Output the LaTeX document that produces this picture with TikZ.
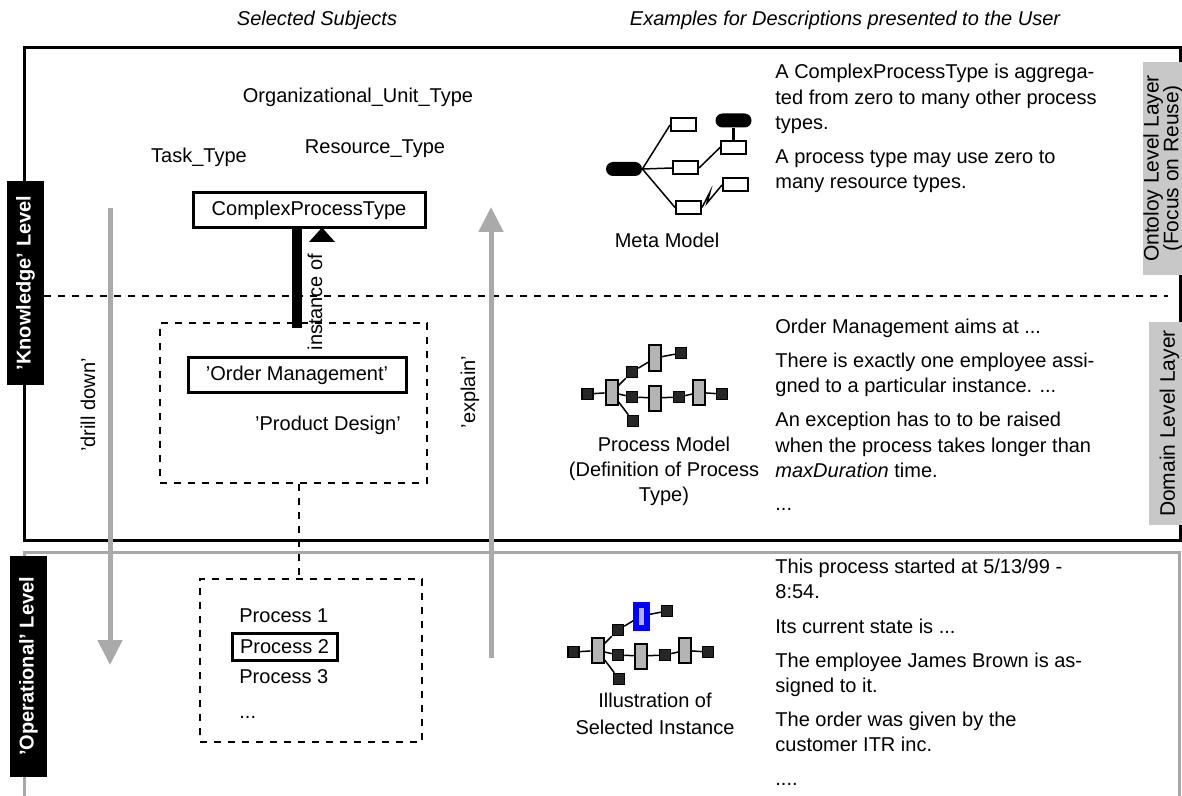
\documentclass[tikz,border=0pt]{standalone}
\usepackage{fontspec}
\setmainfont{Liberation Sans}
\usetikzlibrary{arrows.meta,calc}
\definecolor{layergray}{HTML}{C8C8C8}
\definecolor{arrowgray}{HTML}{AAAAAA}
\definecolor{framegray}{HTML}{A8A8A8}
\definecolor{barfill}{HTML}{B4B4B4}
\definecolor{hlfill}{HTML}{B0B0FF}
\begin{document}
\begin{tikzpicture}[x=0.5pt,y=-0.5pt,
  every node/.style={font=\fontsize{10}{12}\selectfont, inner sep=0pt},
  txt/.style={anchor=center},
  desc/.style={anchor=west, text height=7.2pt, text depth=2.1pt},
  header/.style={font=\fontsize{10}{12}\selectfont\itshape},
  levelbox/.style={fill=black, text=white, rotate=90,
    font=\fontsize{10}{12}\selectfont\bfseries,
    minimum height=18.5pt},
  layerbox/.style={fill=layergray, rotate=90, align=center,
    font=\fontsize{10.5}{9.8}\selectfont},
  typebox/.style={draw, line width=1.5pt},
  dashbox/.style={draw, dash pattern=on 3.5pt off 3.5pt, line width=1pt},
  dashline/.style={dash pattern=on 3.5pt off 3.5pt, line width=1pt},
  grayarrow/.style={draw=arrowgray, line width=2.5pt,
    -{Triangle[width=12pt,length=12.5pt]}, arrowgray},
  pill/.style={fill=black, rounded corners=3.5pt, minimum width=18pt, minimum height=7pt},
  wbox/.style={draw, fill=white, line width=1pt, minimum width=12.5pt, minimum height=6.5pt},
  sq/.style={draw=black, fill=black!85, line width=0.75pt, minimum size=5.5pt},
  gbar/.style={draw=black, fill=barfill, line width=1pt, minimum width=6pt, minimum height=12.5pt},
  netline/.style={line width=0.75pt},
  procnet/.pic={
    \node[sq] (-l) at (0,0) {};
    \node[gbar] (-a) at (24,-1.5) {};
    \node[sq] (-u) at (44.5,-22) {};
    \node[sq] (-m) at (44.5,3) {};
    \node[sq] (-d) at (45.5,27) {};
    \node[gbar] (-t) at (67.5,-36) {};
    \node[sq] (-tr) at (93.5,-41) {};
    \node[gbar] (-c) at (67.5,4) {};
    \node[sq] (-mb) at (91.5,3) {};
    \node[gbar] (-r) at (111.5,-1.5) {};
    \node[sq] (-re) at (134.5,0) {};
    \draw[netline] (-l) -- (-a);
    \draw[netline] (-a) -- (-u);
    \draw[netline] (-u) -- (-t);
    \draw[netline] (-a) -- (-m);
    \draw[netline] (-m) -- (-c);
    \draw[netline] (-a) -- (-d);
    \draw[netline] (-t) -- (-tr);
    \draw[netline] (-c) -- (-mb);
    \draw[netline] (-mb) -- (-r);
    \draw[netline] (-r) -- (-re);
  }
]
\useasboundingbox (0,0) rectangle (1182,796);

% column headers
\node[header] (hsubj) at (317,20) {Selected Subjects};
\node[header] (hdesc) at (845,20) {Examples for Descriptions presented to the User};

% frames of the knowledge and operational levels
\draw[line width=1.5pt] (24,48) rectangle (1180,540);
\draw[framegray, line width=1.5pt] (24,796) -- (24,552) -- (1179,552) -- (1179,796);

% separation between ontology and domain layer
\draw[dashline] (44,296) -- (1168,296);

% level labels on the left
\node[levelbox, minimum width=101.5pt] (klevel) at (25.5,283) {'Knowledge' Level};
\node[levelbox, minimum width=110.5pt] (olevel) at (28.5,666.5) {'Operational' Level};

% layer labels on the right
\node[layerbox, minimum width=106.5pt, minimum height=19pt] (ontlayer) at (1163,168.5)
  {Ontoloy Level Layer\\(Focus on Reuse)};
\node[layerbox, minimum width=101.5pt, minimum height=20.5pt] (domlayer) at (1169.5,423.5)
  {Domain Level Layer};

% selected subjects: ontology layer
\node[txt] (orgunit) at (358,97) {Organizational\_Unit\_Type};
\node[txt] (task) at (199,157) {Task\_Type};
\node[txt] (res) at (375,149) {Resource\_Type};
\node[typebox, minimum width=116pt, minimum height=17.5pt] (cpt) at (309,210.5) {ComplexProcessType};

% selected subjects: domain layer
\node[dashbox, minimum width=133.5pt, minimum height=80pt] (dom) at (293.5,403) {};
\node[typebox, minimum width=109pt, minimum height=17pt] (om) at (297,375) {'Order Management'};
\node[txt] (pd) at (328,425) {'Product Design'};

% instance-of relation
\coordinate (iofoot) at (297,328);
\draw[line width=5pt] (iofoot) -- (iofoot |- cpt.south);
\fill (322,227.5) -- (335,242) -- (309,242) -- cycle;
\node[txt, rotate=90] (io) at (315,302) {instance of};

% selected subjects: operational level
\node[dashbox, minimum width=111pt, minimum height=81.5pt] (opbox) at (311,660.5) {};
\coordinate (link) at (299,0);
\draw[dashline] (dom.south -| link) -- (opbox.north -| link);
\node[desc] (p1) at (239,617) {Process 1};
\node[typebox, minimum width=52.5pt, minimum height=13.5pt] (p2) at (284.5,646.5) {Process 2};
\node[desc] (p3) at (239,678) {Process 3};
\node[desc] (pdots) at (239,713) {...};

% drill down / explain
\coordinate (ddtop) at (110,208);
\coordinate (ddtip) at (110,665);
\draw[grayarrow] (ddtop) -- (ddtip);
\node[txt, rotate=90] (ddlabel) at (88,405) {'drill down'};
\coordinate (exbot) at (491,658);
\coordinate (extip) at (491,207);
\draw[grayarrow] (exbot) -- (extip);
\node[txt, rotate=90] (exlabel) at (470,392) {'explain'};

% meta model icon
\node[pill] (mmroot) at (624,169) {};
\node[wbox] (mm1) at (683.5,125) {};
\node[wbox] (mm2) at (685.5,168) {};
\node[wbox] (mm3) at (688.5,207.5) {};
\node[wbox] (mm4) at (733.5,147.5) {};
\node[wbox] (mm5) at (735.5,185) {};
\node[pill] (mmtop) at (733.5,120.5) {};
\draw[netline] (mmroot.east) -- (mm1.west);
\draw[netline] (mmroot.east) -- (mm2.west);
\draw[netline] (mmroot.east) -- (mm3.west);
\draw[netline] (mm2.east) -- (mm4.west);
\draw[line width=1.5pt] (mmtop.south) -- (mm4.north);
\draw[netline] (mm3.east) -- (710,192) -- (707,203) -- (mm5.west);
\node[txt] (mmcap) at (667,240) {Meta Model};

% process model icon
\pic (pm) at (587.5,394) {procnet};
\node[txt, align=center, font=\fontsize{10}{12.5}\selectfont] (pmcap) at (664,471.5)
  {Process Model\\(Definition of Process\\Type)};

% illustration of the selected instance
\pic (il) at (573.5,652) {procnet};
\node[draw=blue, fill=hlfill, line width=3pt, minimum width=5.5pt, minimum height=11.5pt] (hl) at (il-t) {};
\node[txt, align=center, font=\fontsize{10}{13.5}\selectfont] (ilcap) at (655,713.5)
  {Illustration of\\Selected Instance};

% descriptions: ontology layer
\node[desc] (o1) at (775,73) {A ComplexProcessType is aggrega-};
\node[desc] (o2) at (775,99) {ted from zero to many other process};
\node[desc] (o3) at (775,124) {types.};
\node[desc] (o4) at (775,158) {A process type may use zero to};
\node[desc] (o5) at (775,183) {many resource types.};

% descriptions: domain layer
\node[desc] (d1) at (775,328) {Order Management aims at ...};
\node[desc] (d2) at (775,362) {There is exactly one employee assi-};
\node[desc] (d3) at (775,387) {gned to a particular instance. ...};
\node[desc] (d4) at (775,421) {An exception has to to be raised};
\node[desc] (d5) at (775,447) {when the process takes longer than};
\node[desc] (d6) at (775,472) {\textit{maxDuration} time.};
\node[desc] (d7) at (775,505) {...};

% descriptions: operational level
\node[desc] (x1) at (775,568) {This process started at 5/13/99 -};
\node[desc] (x2) at (775,593) {8:54.};
\node[desc] (x3) at (775,628) {Its current state is ...};
\node[desc] (x4) at (775,662) {The employee James Brown is as-};
\node[desc] (x5) at (775,687) {signed to it.};
\node[desc] (x6) at (775,721) {The order was given by the};
\node[desc] (x7) at (775,746) {customer ITR inc.};
\node[desc] (x8) at (775,780) {....};
\end{tikzpicture}
\end{document}
